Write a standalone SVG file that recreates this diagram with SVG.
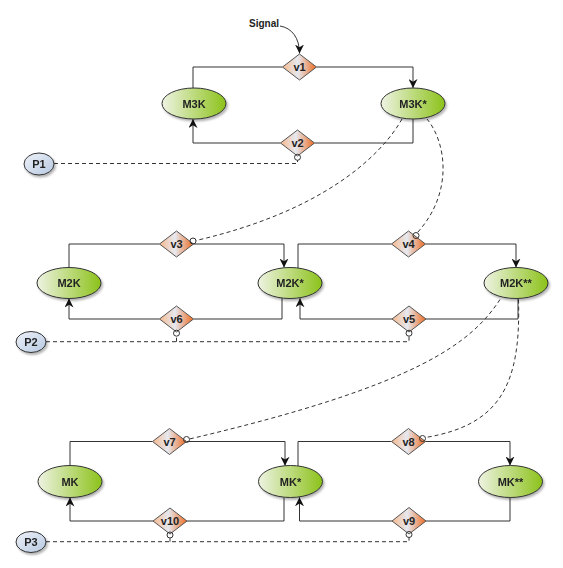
<svg xmlns="http://www.w3.org/2000/svg" width="563" height="568" viewBox="0 0 563 568">
<style>
.n{stroke:#333;stroke-width:1}
.e{fill:url(#gE)}
.p{fill:url(#gP)}
.d{fill:url(#gD);stroke:#555;stroke-width:1}
.t{font-family:"Liberation Sans",Arial,sans-serif;font-weight:bold;font-size:11px;fill:#222;text-anchor:middle}
.c{fill:none;stroke:#333;stroke-width:1}
.a{marker-end:url(#arr)}
.dash{fill:none;stroke:#333;stroke-width:1;stroke-dasharray:4,3}
.o{fill:none;stroke:#333;stroke-width:1}
</style>
<defs>
<linearGradient id="gE" x1="0" y1="0" x2="1" y2="0">
<stop offset="0" stop-color="#eef3e2"/>
<stop offset="1" stop-color="#8cc21a"/>
</linearGradient>
<linearGradient id="gP" x1="0" y1="0" x2="1" y2="1">
<stop offset="0" stop-color="#eef2f8"/>
<stop offset="1" stop-color="#b7c9e2"/>
</linearGradient>
<linearGradient id="gD" x1="0" y1="0" x2="1" y2="0">
<stop offset="0" stop-color="#f7b88c"/>
<stop offset="0.45" stop-color="#e6e9f0"/>
<stop offset="1" stop-color="#ee6b20"/>
</linearGradient>
<filter id="sh" x="-20%" y="-20%" width="150%" height="160%">
<feDropShadow dx="1.5" dy="2" stdDeviation="1.2" flood-color="#000" flood-opacity="0.3"/>
</filter>
<marker id="arr" viewBox="0 0 10 10" refX="10" refY="5" markerWidth="9" markerHeight="9" orient="auto" markerUnits="userSpaceOnUse">
<path d="M0,0 L10,5 L0,10 L3,5 Z" fill="#111"/>
</marker>
</defs>

<g id="connectors">
<path class="c a" d="M280,26 C292,28 299.5,38 299.5,53.5"/>
<path class="c" d="M193,88 V67 H282.5"/>
<path class="c a" d="M316.5,67 H413 V88"/>
<path class="c" d="M413,119 V143 H314.5"/>
<path class="c a" d="M280.5,143 H193 V119"/>
<path class="c" d="M69,267.5 V244 H159.5"/>
<path class="c a" d="M193.5,244 H284 V267.5"/>
<path class="c" d="M298,268 V244 H391.5"/>
<path class="c a" d="M425.5,244 H516 V267.5"/>
<path class="c" d="M518,298.5 V319 H426"/>
<path class="c a" d="M392,319 H300 V298.3"/>
<path class="c" d="M282,298 V319 H193.5"/>
<path class="c a" d="M159.5,319 H69 V298.5"/>
<path class="c" d="M70,465.5 V441.5 H152.5"/>
<path class="c a" d="M186.5,441.5 H285 V465.8"/>
<path class="c" d="M298,466 V441.5 H391.5"/>
<path class="c a" d="M425.5,441.5 H510 V465.5"/>
<path class="c" d="M510,497.5 V521 H426"/>
<path class="c a" d="M392,521 H299.5 V497.3"/>
<path class="c" d="M284,497.5 V521 H187"/>
<path class="c a" d="M153,521 H70 V497.5"/>
<path class="dash" d="M402,119 C380,158 320,212 196,240.5"/>
<path class="dash" d="M427,119 C446,142 454,192 417.5,232.5"/>
<path class="dash" d="M500,299.5 C472,342 420,385 189.5,439"/>
<path class="dash" d="M518.5,299.5 C521,385 500,425 425.5,437.5"/>
<path class="dash" d="M54,163.5 H297.5 V160.3"/>
<path class="dash" d="M46,341.7 H409 V336.2"/>
<path class="dash" d="M176.5,341.7 V336.2"/>
<path class="dash" d="M46,541.7 H409 V537.5"/>
<path class="dash" d="M170,541.7 V538.2"/>
</g>

<text class="t" x="264" y="27" style="font-size:10px">Signal</text>

<g id="M3K" filter="url(#sh)"><ellipse class="n e" cx="194" cy="103.5" rx="32" ry="15.5"/><text class="t" x="194" y="107.5">M3K</text></g>
<g id="M3Kp" filter="url(#sh)"><ellipse class="n e" cx="413" cy="103.5" rx="32" ry="15.5"/><text class="t" x="413" y="107.5">M3K*</text></g>
<g id="M2K" filter="url(#sh)"><ellipse class="n e" cx="69" cy="283" rx="32" ry="15.5"/><text class="t" x="69" y="287">M2K</text></g>
<g id="M2Kp" filter="url(#sh)"><ellipse class="n e" cx="290" cy="283" rx="32" ry="15.5"/><text class="t" x="290" y="287">M2K*</text></g>
<g id="M2Kpp" filter="url(#sh)"><ellipse class="n e" cx="516" cy="283" rx="32" ry="15.5"/><text class="t" x="516" y="287">M2K**</text></g>
<g id="MK" filter="url(#sh)"><ellipse class="n e" cx="70" cy="481.5" rx="32" ry="16"/><text class="t" x="70" y="485.5">MK</text></g>
<g id="MKp" filter="url(#sh)"><ellipse class="n e" cx="290.5" cy="481.5" rx="32" ry="16"/><text class="t" x="290.5" y="485.5">MK*</text></g>
<g id="MKpp" filter="url(#sh)"><ellipse class="n e" cx="510.5" cy="481.5" rx="32" ry="16"/><text class="t" x="510.5" y="485.5">MK**</text></g>

<g id="P1" filter="url(#sh)"><ellipse class="n p" cx="39" cy="164" rx="15" ry="11"/><text class="t" x="39" y="168">P1</text></g>
<g id="P2" filter="url(#sh)"><ellipse class="n p" cx="31" cy="342" rx="15" ry="10.5"/><text class="t" x="31" y="346">P2</text></g>
<g id="P3" filter="url(#sh)"><ellipse class="n p" cx="31" cy="542" rx="15" ry="10.5"/><text class="t" x="31" y="546">P3</text></g>

<g id="v1"><path class="d" d="M299.5,54 L316.5,67 L299.5,80 L282.5,67 Z"/><text class="t" x="299.5" y="71">v1</text></g>
<g id="v2"><path class="d" d="M297.5,130 L314.5,143 L297.5,156 L280.5,143 Z"/><circle class="o" cx="297.5" cy="157.3" r="3"/><text class="t" x="297.5" y="147">v2</text></g>
<g id="v3"><path class="d" d="M176.5,231 L193.5,244 L176.5,257 L159.5,244 Z"/><circle class="o" cx="193" cy="241" r="3"/><text class="t" x="176.5" y="248">v3</text></g>
<g id="v4"><path class="d" d="M408.5,231 L425.5,244 L408.5,257 L391.5,244 Z"/><circle class="o" cx="416" cy="235.5" r="3"/><text class="t" x="408.5" y="248">v4</text></g>
<g id="v5"><path class="d" d="M409,306 L426,319 L409,332 L392,319 Z"/><circle class="o" cx="409" cy="333.2" r="3"/><text class="t" x="409" y="323">v5</text></g>
<g id="v6"><path class="d" d="M176.5,306 L193.5,319 L176.5,332 L159.5,319 Z"/><circle class="o" cx="176.5" cy="333.2" r="3"/><text class="t" x="176.5" y="323">v6</text></g>
<g id="v7"><path class="d" d="M169.5,428.5 L186.5,441.5 L169.5,454.5 L152.5,441.5 Z"/><circle class="o" cx="186.5" cy="439.5" r="3"/><text class="t" x="169.5" y="445.5">v7</text></g>
<g id="v8"><path class="d" d="M408.5,428.5 L425.5,441.5 L408.5,454.5 L391.5,441.5 Z"/><circle class="o" cx="422.5" cy="438.5" r="3"/><text class="t" x="408.5" y="445.5">v8</text></g>
<g id="v9"><path class="d" d="M409,507.5 L426,521 L409,534 L392,521 Z"/><circle class="o" cx="409" cy="534.5" r="3"/><text class="t" x="409" y="525">v9</text></g>
<g id="v10"><path class="d" d="M170,508 L187,521 L170,534 L153,521 Z"/><circle class="o" cx="170" cy="535" r="3"/><text class="t" x="170" y="525">v10</text></g>
</svg>
